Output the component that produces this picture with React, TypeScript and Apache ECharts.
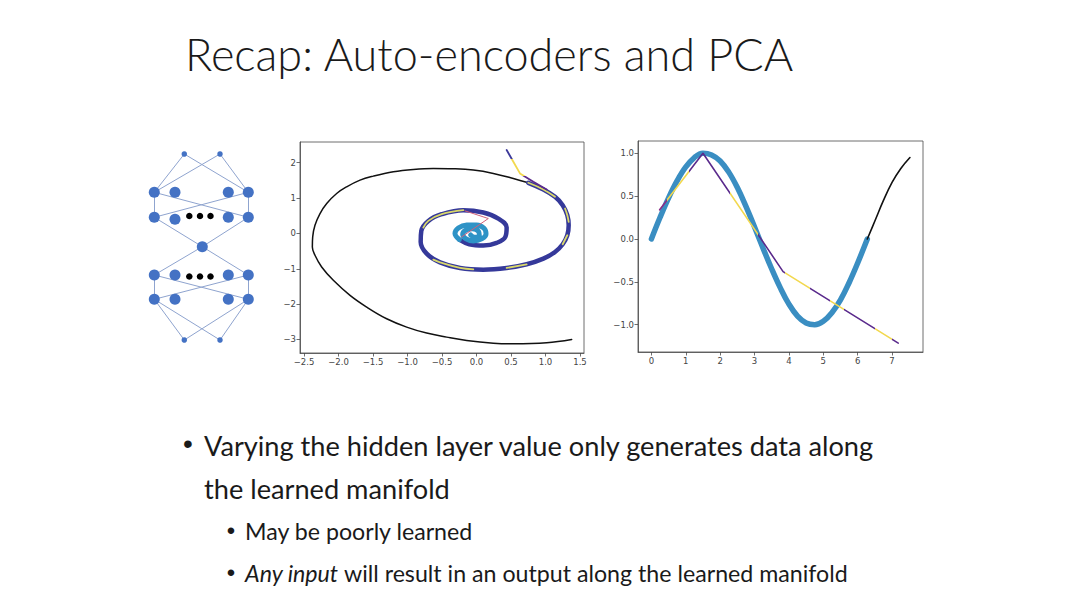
import React, { useEffect, useRef } from 'react';
import * as echarts from 'echarts';

// ---------- Spiral panel ----------
const spiralTruth: number[][] = [
  [1.379, -3.0], [1.017, -3.094], [0.534, -3.123], [0.244, -3.104], [-0.143, -3.028],
  [-0.432, -2.934], [-0.722, -2.82], [-1.012, -2.65], [-1.302, -2.414], [-1.592, -2.083],
  [-1.833, -1.752], [-2.075, -1.327], [-2.244, -0.949], [-2.341, -0.618], [-2.379, -0.382],
  [-2.374, -0.098], [-2.341, 0.233], [-2.268, 0.563], [-2.171, 0.847], [-2.027, 1.13],
  [-1.882, 1.319], [-1.688, 1.509], [-1.495, 1.622], [-1.205, 1.745], [-0.915, 1.811],
  [-0.626, 1.839], [-0.336, 1.83], [-0.046, 1.792], [0.244, 1.698], [0.534, 1.556],
  [0.751, 1.433],
];
const spiralBand: number[][] = [
  [0.751, 1.433], [0.969, 1.244], [1.138, 1.036], [1.249, 0.8], [1.316, 0.516],
  [1.336, 0.233], [1.316, -0.051], [1.249, -0.306], [1.138, -0.524], [0.969, -0.713],
  [0.727, -0.873], [0.437, -0.977], [0.099, -1.025], [-0.239, -0.977], [-0.529, -0.817],
  [-0.722, -0.571], [-0.809, -0.24], [-0.8, 0.072], [-0.698, 0.355], [-0.505, 0.544],
  [-0.191, 0.658], [0.099, 0.592], [0.316, 0.422], [0.437, 0.166], [0.418, -0.098],
  [0.292, -0.268], [0.099, -0.344], [-0.104, -0.306], [-0.249, -0.174],
];
const spiralCore: number[][] = [
  [-0.249, -0.174], [-0.312, -0.004], [-0.263, 0.157], [-0.143, 0.242], [0.002, 0.242],
  [0.109, 0.147], [0.138, -0.013], [0.075, -0.155], [-0.046, -0.212], [-0.157, -0.146],
  [-0.2, -0.023], [-0.157, 0.091], [-0.06, 0.129], [0.031, 0.053], [0.041, -0.06],
  [-0.027, -0.108], [-0.085, -0.042],
];
const spiralYellowSegments: number[][][] = [
  [[-0.771, 0.166], [-0.698, 0.355], [-0.505, 0.544], [-0.191, 0.658]],
  [[-0.626, -0.741], [-0.529, -0.817], [-0.239, -0.977], [-0.046, -1.015]],
  [[0.437, -0.977], [0.727, -0.873]],
  [[0.751, 1.433], [0.969, 1.244], [1.138, 1.036]],
  [[1.283, 0.705], [1.316, 0.516], [1.336, 0.327]],
  [[1.316, -0.051], [1.249, -0.306]],
];
const spiralTail: number[][] = [
  [0.437, 2.359], [0.534, 2.028], [0.63, 1.698], [0.824, 1.461], [1.017, 1.244],
];
const spiralRedLine: number[][] = [[-0.167, 0.639], [0.171, 0.422], [-0.215, -0.098]];
const spiralXTicks = [-2.5, -2.0, -1.5, -1.0, -0.5, 0.0, 0.5, 1.0, 1.5];
const spiralYTicks = [-3, -2, -1, 0, 1, 2];

// ---------- Sine panel ----------
const sineData: number[][] = [
  [0, 0], [0.25, 0.25], [0.5, 0.48], [0.75, 0.68], [1.0, 0.84], [1.25, 0.95], [1.5, 1.0],
  [1.75, 0.98], [2.0, 0.91], [2.25, 0.78], [2.5, 0.6], [2.75, 0.38], [3.0, 0.14],
  [3.25, -0.11], [3.5, -0.35], [3.75, -0.57], [4.0, -0.76], [4.25, -0.9], [4.5, -0.98],
  [4.75, -1.0], [5.0, -0.96], [5.25, -0.86], [5.5, -0.71], [5.75, -0.51], [6.0, -0.28],
  [6.28, 0.0],
];
const sineTail: number[][] = [[6.28, 0.0], [6.5, 0.21], [6.75, 0.45], [7.0, 0.66], [7.25, 0.82], [7.52, 0.95]];
const sineRecon: number[][] = [[0.24, 0.34], [1.5, 1.0], [3.83, -0.38], [7.18, -1.215]];
const sineXTicks = [0, 1, 2, 3, 4, 5, 6, 7];
const sineYTicks = [-1.0, -0.5, 0.0, 0.5, 1.0];

// ---------- Network diagram ----------
const netNodes: { x: number; y: number; kind: string }[] = [
  { x: 44.3, y: 14, kind: 'io' }, { x: 80, y: 14, kind: 'io' },
  { x: 14.3, y: 52.3, kind: 'unit' }, { x: 35, y: 52.3, kind: 'unit' }, { x: 88.3, y: 52.3, kind: 'unit' }, { x: 108.3, y: 52.3, kind: 'unit' },
  { x: 14.3, y: 77.3, kind: 'unit' }, { x: 35, y: 79.3, kind: 'unit' }, { x: 88.3, y: 77.3, kind: 'unit' }, { x: 108.3, y: 77.3, kind: 'unit' },
  { x: 49.3, y: 76, kind: 'dot' }, { x: 60, y: 76, kind: 'dot' }, { x: 70.5, y: 76, kind: 'dot' },
  { x: 62.3, y: 106.7, kind: 'unit' },
  { x: 14.3, y: 135, kind: 'unit' }, { x: 35, y: 135, kind: 'unit' }, { x: 88.3, y: 135, kind: 'unit' }, { x: 108.3, y: 135, kind: 'unit' },
  { x: 49.3, y: 136.5, kind: 'dot' }, { x: 60, y: 136.5, kind: 'dot' }, { x: 70.5, y: 136.5, kind: 'dot' },
  { x: 14.3, y: 159.3, kind: 'unit' }, { x: 35, y: 159.3, kind: 'unit' }, { x: 88.3, y: 159.3, kind: 'unit' }, { x: 108.3, y: 159.3, kind: 'unit' },
  { x: 44.3, y: 200, kind: 'io' }, { x: 80, y: 200, kind: 'io' },
];
const netLinks: number[][] = [
  [0, 2], [0, 5], [1, 2], [1, 5], [2, 6], [5, 9], [2, 9], [5, 6], [6, 13], [9, 13],
  [13, 14], [13, 17], [14, 21], [17, 24], [14, 24], [17, 21], [21, 25], [21, 26], [24, 25], [24, 26],
];

// ---------- Slide text ----------
const titleText = 'Recap: Auto-encoders and PCA';
const bulletLines = ['Varying the hidden layer value only generates data along', 'the learned manifold'];
const subBullet1 = 'May be poorly learned';
const subBullet2Italic = 'Any input';
const subBullet2Rest = ' will result in an output along the learned manifold';

const AXIS_COLOR = '#4a4a4a';
const fmtSigned = (d: number) => (v: number) => (v < 0 ? '\u2212' : '') + Math.abs(v).toFixed(d);

function valueAxis(gridIndex: number, min: number, max: number, ticks: number[], digits: number) {
  return {
    type: 'value', gridIndex, min, max,
    axisLine: { show: true, onZero: false, lineStyle: { color: AXIS_COLOR, width: 0.8 } },
    axisTick: { show: true, length: 3.5, customValues: ticks, lineStyle: { color: AXIS_COLOR, width: 0.8 } },
    axisLabel: { customValues: ticks, formatter: fmtSigned(digits), fontSize: 8.5, color: '#444', fontFamily: 'DejaVu Sans', margin: 4 },
    splitLine: { show: false },
  };
}

const lineS = (data: number[][], color: string | null, width: number, xi: number, extra: any = {}) => {
  const lineStyle: any = { width, cap: 'round', join: 'round' };
  if (color) lineStyle.color = color;
  const s: any = {
    type: 'line', xAxisIndex: xi, yAxisIndex: xi, data, showSymbol: false, symbol: 'none',
    lineStyle, silent: true, ...extra,
  };
  if (color) s.itemStyle = { color };
  return s;
};

const PURPLE = '#5a2a8c';
const YELLOW = '#f2d84e';

export default function App() {
  const ref = useRef<HTMLDivElement>(null);
  useEffect(() => {
    document.body.style.margin = '0';
    const chart = echarts.init(ref.current!, null, { renderer: 'svg' });
    const nodeSize: Record<string, number> = { io: 5.5, unit: 11, dot: 6.5 };
    const nodeColor: Record<string, string> = { io: '#4472c4', unit: '#4472c4', dot: '#000000' };

    const series: any[] = [
      lineS(spiralTruth, '#111111', 1.5, 0, { smooth: 0.4 }),
      lineS(spiralBand, '#35399a', 4.5, 0, { smooth: 0.4 }),
      lineS(spiralCore, '#2e93c6', 5, 0, { smooth: 0.4 }),
      ...spiralYellowSegments.map((seg) => lineS(seg, '#d9d86a', 1.8, 0, { smooth: 0.4 })),
      lineS(spiralTail, null, 1.8, 0),
      lineS(spiralRedLine, '#d0607a', 1, 0),
      lineS(sineData, '#3a8ec2', 5.5, 1, { smooth: 0.4 }),
      lineS(sineTail, '#111111', 1.6, 1, { smooth: 0.4 }),
      lineS(sineRecon, null, 1.6, 1),
      {
        type: 'graph', coordinateSystem: 'cartesian2d', xAxisIndex: 2, yAxisIndex: 2, silent: true,
        data: netNodes.map((n, i) => ({ name: 'n' + i, value: [n.x, n.y], symbolSize: nodeSize[n.kind], itemStyle: { color: nodeColor[n.kind] } })),
        links: netLinks.map(([s, t]) => ({ source: 'n' + s, target: 'n' + t })),
        lineStyle: { color: '#8fa4cf', width: 1, opacity: 1, curveness: 0 },
        label: { show: false },
      },
    ];
    const tailIndex = 3 + spiralYellowSegments.length;
    const reconIndex = series.length - 2;

    const textColor = '#1a1a1a';
    const option: any = {
      animation: false,
      backgroundColor: '#ffffff',
      grid: [
        { left: 300, top: 142, width: 284, height: 211, show: true, borderColor: AXIS_COLOR, borderWidth: 0.8 },
        { left: 638, top: 141, width: 285, height: 211, show: true, borderColor: AXIS_COLOR, borderWidth: 0.8 },
        { left: 140, top: 140, width: 130, height: 210 },
      ],
      xAxis: [
        valueAxis(0, -2.558, 1.558, spiralXTicks, 1),
        valueAxis(1, -0.39, 7.9, sineXTicks, 0),
        { type: 'value', gridIndex: 2, min: 0, max: 130, show: false },
      ],
      yAxis: [
        valueAxis(0, -3.383, 2.587, spiralYTicks, 0),
        valueAxis(1, -1.318, 1.143, sineYTicks, 1),
        { type: 'value', gridIndex: 2, min: 0, max: 210, inverse: true, show: false },
      ],
      visualMap: [
        {
          type: 'piecewise', show: false, seriesIndex: tailIndex, dimension: 1,
          pieces: [
            { lt: 1.62, color: PURPLE }, { gte: 1.62, lt: 2.1, color: YELLOW }, { gte: 2.1, color: '#3d3a9a' },
          ],
        },
        {
          type: 'piecewise', show: false, seriesIndex: reconIndex, dimension: 0,
          pieces: [
            { lt: 0.45, color: '#8a2c86' }, { gte: 0.45, lt: 1.1, color: YELLOW }, { gte: 1.1, lt: 2.3, color: PURPLE },
            { gte: 2.3, lt: 3.1, color: YELLOW }, { gte: 3.1, lt: 3.9, color: PURPLE }, { gte: 3.9, lt: 4.6, color: YELLOW },
            { gte: 4.6, lt: 5.2, color: PURPLE }, { gte: 5.2, lt: 5.6, color: YELLOW }, { gte: 5.6, lt: 6.5, color: PURPLE },
            { gte: 6.5, lt: 7.0, color: YELLOW }, { gte: 7.0, color: PURPLE },
          ],
        },
      ],
      series,
      graphic: [
        { type: 'text', x: 185, y: 54, style: { text: titleText, fontFamily: 'Lato', fontWeight: 300, fontSize: 45, fill: textColor, textVerticalAlign: 'middle' } },
        { type: 'text', x: 188, y: 443, style: { text: '\u2022', fontFamily: 'Liberation Sans', fontSize: 28, fill: textColor, textAlign: 'center', textVerticalAlign: 'middle' } },
        { type: 'text', x: 204, y: 445, style: { text: bulletLines[0], fontFamily: 'Lato', fontSize: 27.2, fill: textColor, textVerticalAlign: 'middle' } },
        { type: 'text', x: 204, y: 488, style: { text: bulletLines[1], fontFamily: 'Lato', fontSize: 27.2, fill: textColor, textVerticalAlign: 'middle' } },
        { type: 'text', x: 231, y: 530, style: { text: '\u2022', fontFamily: 'Liberation Sans', fontSize: 24, fill: textColor, textAlign: 'center', textVerticalAlign: 'middle' } },
        { type: 'text', x: 245, y: 531, style: { text: subBullet1, fontFamily: 'Lato', fontSize: 23.2, fill: textColor, textVerticalAlign: 'middle' } },
        { type: 'text', x: 231, y: 572, style: { text: '\u2022', fontFamily: 'Liberation Sans', fontSize: 24, fill: textColor, textAlign: 'center', textVerticalAlign: 'middle' } },
        {
          type: 'text', x: 245, y: 573,
          style: {
            text: '{it|' + subBullet2Italic + '}{n|' + subBullet2Rest + '}', fontFamily: 'Lato', fontSize: 23.2, fill: textColor, textVerticalAlign: 'middle',
            rich: {
              it: { fontFamily: 'Lato', fontSize: 23.2, fontStyle: 'italic', fill: textColor },
              n: { fontFamily: 'Lato', fontSize: 23.2, fill: textColor },
            },
          },
        },
      ],
    };
    chart.setOption(option);
    return () => chart.dispose();
  }, []);
  return <div ref={ref} style={{ position: 'fixed', left: 0, top: 0, width: 1080, height: 607, background: '#fff' }} />;
}
